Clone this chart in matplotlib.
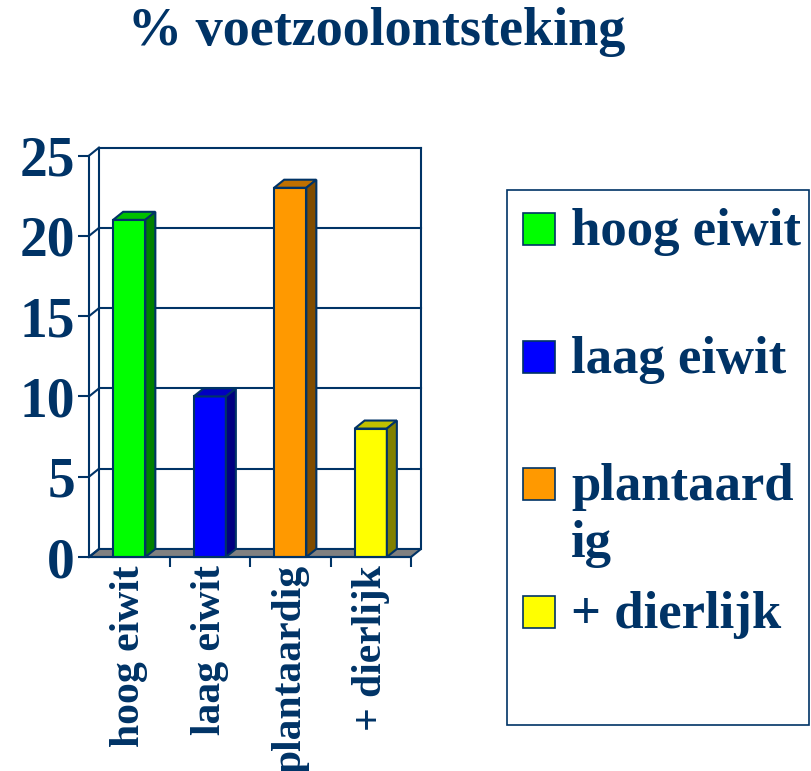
import matplotlib
matplotlib.use("Agg")
import matplotlib.pyplot as plt
from matplotlib.patches import Polygon, Rectangle

categories = ["hoog eiwit", "laag eiwit", "plantaardig", "+ dierlijk"]
legend_labels = ["hoog eiwit", "laag eiwit", "plantaard\nig", "+ dierlijk"]
values = [21, 10, 23, 8]
yticks = [0, 5, 10, 15, 20, 25]
title = "% voetzoolontsteking"

front_colors = ["#00FF00", "#0000FF", "#FF9900", "#FFFF00"]
top_colors = ["#00C000", "#0000C0", "#C07000", "#C0C000"]
side_colors = ["#008000", "#000080", "#804C00", "#808000"]
navy = "#003366"
FONT = "Liberation Serif"

W, H = 811, 771
fig = plt.figure(figsize=(W / 100, H / 100), dpi=100)
fig.patch.set_facecolor("white")

# axes in pixel layout
x0, x1 = 89, 421
y0, y1 = 557, 147.6
ax = fig.add_axes([x0 / W, 1 - y0 / H, (x1 - x0) / W, (y0 - y1) / H])
DX = 10 / 80.5
DY = 0.5
ax.set_xlim(-0.5, 3.5 + DX)
ax.set_ylim(0, 25 + DY)
ax.patch.set_alpha(0)

lw = 1.5
# floor
ax.add_patch(Polygon([(-0.5, 0), (3.5, 0), (3.5 + DX, DY), (-0.5 + DX, DY)],
                     closed=True, facecolor="#808080", edgecolor=navy, lw=lw, zorder=1, clip_on=False))
# back wall grid lines and side diagonals
for v in yticks:
    if v > 0:
        ax.plot([-0.5 + DX, 3.5 + DX], [v + DY, v + DY], color=navy, lw=lw, zorder=1, clip_on=False)
    ax.plot([-0.5, -0.5 + DX], [v, v + DY], color=navy, lw=lw, zorder=1, clip_on=False)
ax.plot([-0.5 + DX, -0.5 + DX], [DY, 25 + DY], color=navy, lw=lw, zorder=1, clip_on=False)
ax.plot([3.5 + DX, 3.5 + DX], [DY, 25 + DY], color=navy, lw=lw, zorder=1, clip_on=False)

# bars
bw = 0.2
for i, v in enumerate(values):
    ax.add_patch(Rectangle((i - bw, 0), 2 * bw, v, facecolor=front_colors[i],
                           edgecolor=navy, lw=lw, zorder=3, clip_on=False))
    ax.add_patch(Polygon([(i - bw, v), (i + bw, v), (i + bw + DX, v + DY), (i - bw + DX, v + DY)],
                         closed=True, facecolor=top_colors[i], edgecolor=navy, lw=lw, zorder=3, clip_on=False))
    ax.add_patch(Polygon([(i + bw, 0), (i + bw + DX, DY), (i + bw + DX, v + DY), (i + bw, v)],
                         closed=True, facecolor=side_colors[i], edgecolor=navy, lw=lw, zorder=3, clip_on=False))

# spines
for s in ["top", "right"]:
    ax.spines[s].set_visible(False)
ax.spines["left"].set_bounds(0, 25)
ax.spines["bottom"].set_bounds(-0.5, 3.5)
for s in ["left", "bottom"]:
    ax.spines[s].set_color(navy)
    ax.spines[s].set_linewidth(lw)
    ax.spines[s].set_zorder(4)

ax.set_yticks(yticks)
ax.set_yticklabels([str(t) for t in yticks], fontfamily=FONT, fontweight="bold",
                   fontsize=40, color=navy)
ax.tick_params(axis="y", direction="out", length=8, width=lw, color=navy, pad=2)

ax.set_xticks(range(len(categories)))
ax.set_xticklabels(categories, rotation=90, fontfamily=FONT, fontweight="bold",
                   fontsize=30, color=navy, va="top", ha="center")
ax.tick_params(axis="x", which="major", length=0, pad=6)
ax.set_xticks([0.5, 1.5, 2.5, 3.5], minor=True)
ax.tick_params(axis="x", which="minor", direction="out", length=7, width=lw, color=navy)

# title
fig.text(377 / W, 1 - 32 / H, title, ha="center", va="center", fontfamily=FONT,
         fontweight="bold", fontsize=39, color=navy)

# legend (manual)
lax = fig.add_axes([0, 0, 1, 1])
lax.set_xlim(0, W)
lax.set_ylim(H, 0)
lax.axis("off")
lax.patch.set_alpha(0)
lax.add_patch(Rectangle((507, 190), 302, 535, facecolor="none", edgecolor=navy, lw=1.2))
centers = [229, 357, 484, 612]
for i, lab in enumerate(legend_labels):
    cy = centers[i]
    lax.add_patch(Rectangle((523, cy - 16), 32, 32, facecolor=front_colors[i], edgecolor=navy, lw=1.2))
    lax.text(571, cy - 21, lab, ha="left", va="top", fontfamily=FONT, fontweight="bold",
             fontsize=38, color=navy, linespacing=1.25)

fig.savefig("out.png", dpi=100)
